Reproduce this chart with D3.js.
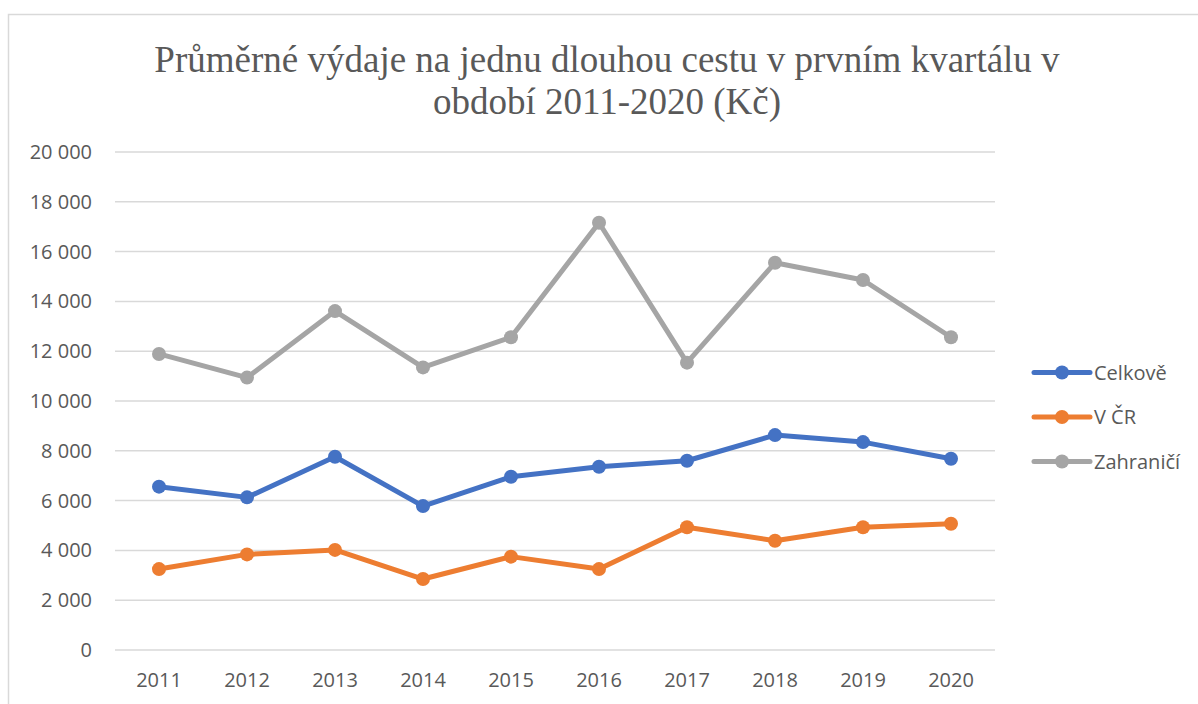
<!DOCTYPE html>
<html>
<head>
<meta charset="utf-8">
<script src="https://cdn.jsdelivr.net/npm/d3@7.9.0/dist/d3.min.js"></script>
<style>
  html, body { margin: 0; padding: 0; background: #fff; }
  svg { display: block; }
</style>
</head>
<body>
<svg id="chart" width="1198" height="704"></svg>
<script>
const years = ['2011', '2012', '2013', '2014', '2015', '2016', '2017', '2018', '2019', '2020'];
const celkove = [6560, 6130, 7760, 5780, 6960, 7360, 7600, 8630, 8350, 7680];
const vCR = [3250, 3840, 4020, 2850, 3750, 3250, 4930, 4390, 4930, 5070];
const zahranici = [11890, 10940, 13610, 11350, 12560, 17160, 11540, 15550, 14860, 12560];
const yTicks = [0, 2000, 4000, 6000, 8000, 10000, 12000, 14000, 16000, 18000, 20000];

const series = [
  { name: 'Celkově', values: celkove, color: '#4472C4' },
  { name: 'V ČR', values: vCR, color: '#ED7D31' },
  { name: 'Zahraničí', values: zahranici, color: '#A5A5A5' }
];

const svg = d3.select('#chart');
const textColor = '#595959';
const sans = '"Open Sans", sans-serif';

// chart frame
svg.append('rect')
  .attr('x', 8.5).attr('y', 14.5)
  .attr('width', 1198).attr('height', 700)
  .attr('fill', '#fff')
  .attr('stroke', '#D9D9D9').attr('stroke-width', 1.5);

// title
const title = svg.append('text')
  .attr('text-anchor', 'middle')
  .attr('font-family', '"Liberation Serif", "Times New Roman", serif')
  .attr('font-size', 37)
  .attr('fill', textColor);
title.append('tspan').attr('x', 607).attr('y', 72)
  .text('Průměrné výdaje na jednu dlouhou cestu v prvním kvartálu v');
title.append('tspan').attr('x', 607).attr('y', 114)
  .text('období 2011-2020 (Kč)');

const x = d3.scaleBand().domain(years).range([115, 995]);
const y = d3.scaleLinear().domain([0, 20000]).range([650, 152]);

const fmt = v => d3.format(',')(v).replace(/,/g, ' ');

// gridlines
svg.append('g')
  .selectAll('line')
  .data(yTicks)
  .join('line')
  .attr('x1', 115).attr('x2', 995)
  .attr('y1', d => y(d)).attr('y2', d => y(d))
  .attr('stroke', '#D9D9D9').attr('stroke-width', 1.5);

// y axis labels
const yAxis = svg.append('g')
  .attr('transform', 'translate(115,0)')
  .call(d3.axisLeft(y).tickValues(yTicks).tickFormat(fmt).tickSize(0).tickPadding(23));
yAxis.select('.domain').remove();
yAxis.selectAll('text')
  .attr('font-family', sans).attr('font-size', 20).attr('fill', textColor);

// x axis labels
const xAxis = svg.append('g')
  .attr('transform', 'translate(0,650)')
  .call(d3.axisBottom(x).tickSize(0).tickPadding(23));
xAxis.select('.domain').remove();
xAxis.selectAll('text')
  .attr('font-family', sans).attr('font-size', 20).attr('fill', textColor);

const cx = d => x(d) + x.bandwidth() / 2;
const line = d3.line().x(d => cx(d.year)).y(d => y(d.value));

series.forEach(s => {
  const pts = years.map((yr, i) => ({ year: yr, value: s.values[i] }));
  const g = svg.append('g');
  g.append('path')
    .attr('d', line(pts))
    .attr('fill', 'none')
    .attr('stroke', s.color)
    .attr('stroke-width', 5)
    .attr('stroke-linejoin', 'round');
  g.selectAll('circle')
    .data(pts)
    .join('circle')
    .attr('cx', d => cx(d.year))
    .attr('cy', d => y(d.value))
    .attr('r', 7)
    .attr('fill', s.color);
});

// legend
const legend = svg.append('g')
  .selectAll('g')
  .data(series)
  .join('g')
  .attr('transform', (d, i) => `translate(1034,${372.5 + i * 44.5})`);
legend.append('line')
  .attr('x1', 0).attr('x2', 56)
  .attr('stroke', d => d.color).attr('stroke-width', 5)
  .attr('stroke-linecap', 'round');
legend.append('circle')
  .attr('cx', 28).attr('r', 7)
  .attr('fill', d => d.color);
legend.append('text')
  .attr('x', 60).attr('dy', '0.35em')
  .attr('font-family', sans).attr('font-size', 20)
  .attr('fill', textColor)
  .text(d => d.name);
</script>
</body>
</html>
